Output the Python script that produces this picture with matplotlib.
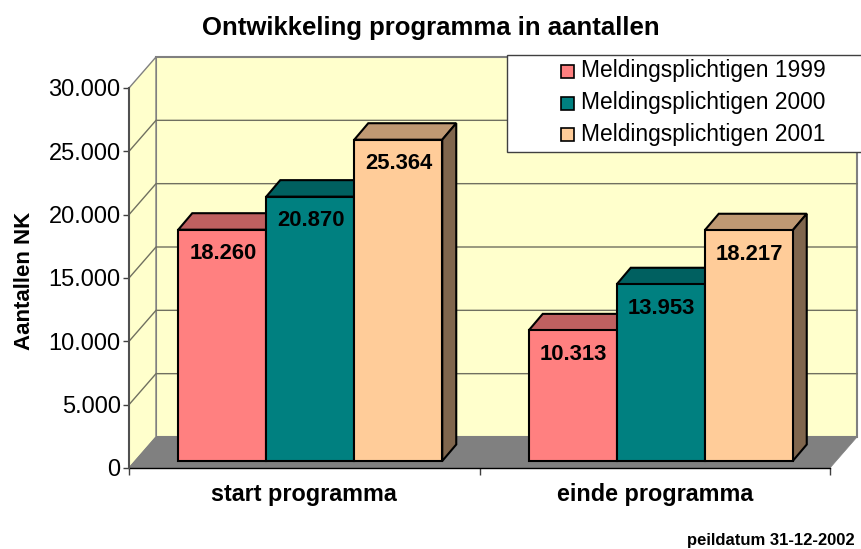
import matplotlib
matplotlib.use("Agg")
import matplotlib.pyplot as plt
from matplotlib.patches import Rectangle

plt.rcParams['font.family'] = ['Liberation Sans', 'DejaVu Sans']

categories = ["start programma", "einde programma"]
series_names = ["Meldingsplichtigen 1999", "Meldingsplichtigen 2000", "Meldingsplichtigen 2001"]
values_1999 = [18260, 10313]
values_2000 = [20870, 13953]
values_2001 = [25364, 18217]
yticks = [0, 5000, 10000, 15000, 20000, 25000, 30000]

front_colors = ["#FF8080", "#008080", "#FFCC99"]
top_colors = ["#BF6060", "#006060", "#BF9973"]
side_colors = ["#804040", "#004040", "#80664D"]

W, H = 861, 549
fig = plt.figure(figsize=(W / 100, H / 100), dpi=100, facecolor="white")
# front plane of the 3d box, in pixels: x 129-830, y 88-468
ax = fig.add_axes([129 / W, 1 - 468 / H, 701 / W, 380 / H])
ax.set_xlim(0, 2)
ax.set_ylim(0, 30000)
ax.patch.set_visible(False)

px = 2 / 701  # one pixel in x data units
py = 30000 / 380  # one pixel in y data units
wall_dx, wall_dy = 27 * px, 31 * py
bar_dx, bar_dy = 14 * px, 16.5 * py
bar_base = 7 * py  # bars stand a little behind the front edge
bar_w = 88 * px
group_shift = 6 * px


def poly(xs, ys, color, edge="none", lw=0.0, z=1):
    ax.fill(xs, ys, facecolor=color, edgecolor=edge, linewidth=lw, zorder=z,
            clip_on=False, joinstyle="miter")


# walls and floor
poly([wall_dx, 2 + wall_dx, 2 + wall_dx, wall_dx],
     [wall_dy, wall_dy, 30000 + wall_dy, 30000 + wall_dy], "#FFFFCC", "#808080", 1.5)
poly([0, wall_dx, wall_dx, 0], [0, wall_dy, 30000 + wall_dy, 30000], "#FFFFCC", "#808080", 1.0)
poly([0, 2, 2 + wall_dx, wall_dx], [0, 0, wall_dy, wall_dy], "#808080", "#808080", 0.5, z=1.5)

# gridlines on back and side wall
for v in yticks[1:-1]:
    ax.plot([0, wall_dx, 2 + wall_dx], [v, v + wall_dy, v + wall_dy],
            color="#707060", lw=1.0, zorder=1.2, clip_on=False)

# bars
all_values = [values_1999, values_2000, values_2001]
for g in range(len(categories)):
    left = g + 0.5 + group_shift - 1.5 * bar_w
    for s, vals in enumerate(all_values):
        x0 = left + s * bar_w
        x1 = x0 + bar_w
        top = bar_base + vals[g]
        z = 3 + g * 3 + s * 0.1
        poly([x0, x1, x1 + bar_dx, x0 + bar_dx],
             [top, top, top + bar_dy, top + bar_dy], top_colors[s], "black", 1.5, z)
        poly([x1, x1 + bar_dx, x1 + bar_dx, x1],
             [bar_base, bar_base + bar_dy, top + bar_dy, top], side_colors[s], "black", 1.5, z)
        poly([x0, x1, x1, x0], [bar_base, bar_base, top, top], front_colors[s], "black", 1.5, z)
        label = f"{vals[g]:,}".replace(",", ".")
        ax.annotate(label, (x0 + bar_w / 2 + 1 * px, top), xytext=(0, -24 * 0.72),
                    textcoords="offset points", ha="center", va="center",
                    fontsize=15.8, fontweight="bold", color="black", zorder=20)

# axes
for name in ["top", "right"]:
    ax.spines[name].set_visible(False)
ax.spines["left"].set_color("#505050")
ax.spines["left"].set_linewidth(1.5)
ax.spines["bottom"].set_color("black")
ax.spines["bottom"].set_linewidth(1.0)
ax.spines["bottom"].set_zorder(2)

ax.set_yticks(yticks)
ax.set_yticklabels([f"{v:,}".replace(",", ".") for v in yticks], fontsize=17)
ax.tick_params(axis="y", length=4, width=1.0, pad=2, color="#404040")
ax.set_xticks([0, 1, 2])
ax.set_xticklabels([])
ax.tick_params(axis="x", which="major", length=5, width=1.0, color="#404040")
ax.set_xticks([0.5, 1.5], minor=True)
ax.set_xticklabels(categories, minor=True, fontsize=16.8, fontweight="bold")
ax.tick_params(axis="x", which="minor", length=0, pad=11)

fig.text(25 / W, 1 - 281 / H, "Aantallen NK", rotation=90, ha="center", va="center",
         fontsize=16, fontweight="bold")
fig.text(431 / W, 1 - 28.5 / H, "Ontwikkeling programma in aantallen", ha="center", va="center",
         fontsize=18.5, fontweight="bold")
fig.text(855 / W, 1 - 541 / H, "peildatum 31-12-2002", ha="right", va="center",
         fontsize=12, fontweight="bold")

# legend box runs off the right side of the picture
fig.add_artist(Rectangle((507 / W, 1 - 152 / H), 360 / W, 97 / H, transform=fig.transFigure,
                         facecolor="white", edgecolor="#404040", linewidth=1.0, zorder=30))
legend_y = [71, 103, 134]
for name, color, y in zip(series_names, front_colors, legend_y):
    fig.add_artist(Rectangle((561 / W, 1 - (y + 6.5) / H), 13 / W, 13 / H, transform=fig.transFigure,
                             facecolor=color, edgecolor="black", linewidth=1.2, zorder=31))
    fig.text(581 / W, 1 - y / H, name, ha="left", va="center", fontsize=16.4, zorder=32)

fig.savefig("out.png", dpi=100)
